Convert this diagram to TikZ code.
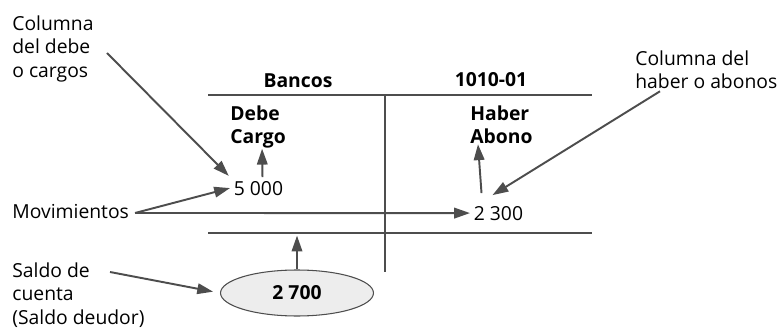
\documentclass[tikz,border=0pt]{standalone}
\usepackage{fontspec}
\setmainfont{Open Sans}
\usepackage{tikz}
\usetikzlibrary{shapes,arrows.meta,positioning,calc}
\definecolor{linegray}{HTML}{4D4D4D}
\definecolor{ovalfill}{HTML}{EDEDED}

\begin{document}
\begin{tikzpicture}[x=0.02cm, y=-0.02cm,
    every node/.style={font=\fontsize{11}{13.5}\selectfont, text=black},
    bold/.style={font=\fontsize{11}{13.5}\selectfont\bfseries},
    lbl/.style={align=left, inner sep=0pt, anchor=north west},
    num/.style={inner sep=2pt, anchor=base west},
    tline/.style={draw=linegray, line width=1.1pt},
    arr/.style={draw=linegray, line width=1.1pt, -{Triangle[length=9pt,width=6pt]}}]
    \useasboundingbox (0,0) rectangle (777,334);

    % T account
    \coordinate (tl) at (208,95);
    \coordinate (tr) at (592,95);
    \coordinate (bl) at (208,233);
    \coordinate (br) at (592,233);
    \coordinate (vt) at (385,95);
    \coordinate (vb) at (385,272);
    \draw[tline] (tl) -- (tr);
    \draw[tline] (bl) -- (br);
    \draw[tline] (vt) -- (vb);

    % Headings
    \node[bold, anchor=base] (bancos) at (298,88) {Bancos};
    \node[bold, anchor=base] (cuenta) at (491,87) {1010-01};
    \node[bold, lbl] (debe) at (230,105) {Debe\\Cargo};
    \node[bold, lbl] (haber) at (470,105) {Haber\\Abono};

    % Amounts
    \node[num] (m5000) at (230,195) {5 000};
    \node[num] (m2300) at (470,220) {2 300};
    \node[ellipse, draw=linegray, line width=0.6pt, fill=ovalfill,
          minimum width=3.06cm, minimum height=0.92cm, bold] (saldoVal) at (297,293) {2 700};

    % Side labels
    \node[lbl] (colDebe) at (12,15) {Columna\\del debe\\o cargos};
    \node[lbl] (colHaber) at (635,50) {Columna del\\haber o abonos};
    \node[anchor=base west, inner sep=0pt] (movim) at (12,218) {Movimientos};
    \node[lbl] (saldo) at (12,262) {Saldo de\\cuenta\\(Saldo deudor)};

    % Arrows
    \coordinate (debeTail) at (107,53);
    \coordinate (movTail) at (135,213);
    \coordinate (saldoTail) at (110,272);
    \draw[arr, shorten >=1pt] (debeTail) -- (m5000.north west);
    \draw[arr] (movTail) -- (m5000.west);
    \draw[arr] (movTail) -- (m2300.west);
    \draw[arr] ($(m5000.north)+(4,0)$) -- ($(debe.south)+(4,0)$);
    \draw[arr] ($(m2300.north west)+(11.5,-9)$) -- ($(haber.south west)+(8,0)$);
    \draw[arr] ($(colHaber.south west)+(25,2)$) -- ($(m2300.north)+(-6,-7)$);
    \draw[arr, shorten >=4pt] (saldoTail) -- (saldoVal.west);
    \draw[arr, shorten >=1.5pt] (saldoVal.north) -- (saldoVal.north |- bl);
\end{tikzpicture}
\end{document}
